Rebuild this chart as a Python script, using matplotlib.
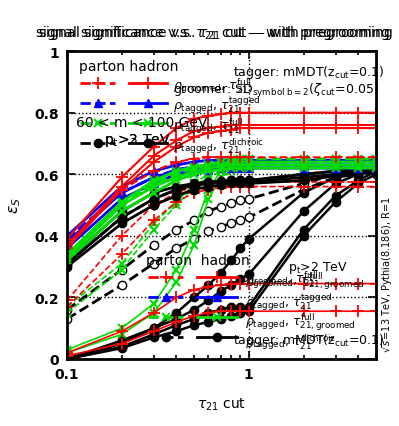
import matplotlib
matplotlib.use("Agg")
import matplotlib.pyplot as plt

# tau21 cut values
tau_cut = [0.1, 0.2, 0.3, 0.4, 0.5, 0.6, 0.7, 0.8, 0.9, 1.0, 2, 3, 4, 5]

# upper set (high efficiency) - hadron level (solid)
red_had_up = [
    [0.39, 0.59, 0.69, 0.75, 0.78, 0.79, 0.795, 0.80, 0.80, 0.80, 0.80, 0.80, 0.80, 0.80],
    [0.37, 0.56, 0.66, 0.71, 0.74, 0.75, 0.755, 0.76, 0.76, 0.76, 0.76, 0.76, 0.76, 0.76],
    [0.36, 0.55, 0.64, 0.69, 0.72, 0.735, 0.74, 0.745, 0.75, 0.75, 0.75, 0.75, 0.75, 0.75],
]
blue_had_up = [
    [0.40, 0.56, 0.61, 0.63, 0.64, 0.645, 0.645, 0.645, 0.645, 0.645, 0.645, 0.645, 0.645, 0.645],
    [0.38, 0.54, 0.59, 0.61, 0.62, 0.625, 0.63, 0.63, 0.63, 0.63, 0.63, 0.63, 0.63, 0.63],
    [0.36, 0.52, 0.57, 0.60, 0.61, 0.615, 0.62, 0.62, 0.62, 0.62, 0.62, 0.62, 0.62, 0.62],
]
green_had_up = [
    [0.34, 0.51, 0.58, 0.61, 0.625, 0.63, 0.635, 0.64, 0.64, 0.64, 0.64, 0.64, 0.64, 0.64],
    [0.33, 0.50, 0.56, 0.59, 0.61, 0.62, 0.625, 0.63, 0.63, 0.63, 0.63, 0.63, 0.63, 0.63],
    [0.32, 0.48, 0.54, 0.58, 0.60, 0.61, 0.615, 0.62, 0.62, 0.62, 0.62, 0.62, 0.62, 0.62],
]
black_had_up = [
    [0.32, 0.48, 0.54, 0.56, 0.57, 0.575, 0.578, 0.58, 0.58, 0.58, 0.60, 0.61, 0.615, 0.62],
    [0.31, 0.46, 0.52, 0.55, 0.565, 0.57, 0.575, 0.575, 0.575, 0.575, 0.59, 0.60, 0.61, 0.615],
    [0.30, 0.44, 0.50, 0.53, 0.55, 0.56, 0.565, 0.57, 0.57, 0.57, 0.58, 0.595, 0.60, 0.61],
]
# upper set - parton level (dashed)
red_par_up = [0.37, 0.55, 0.61, 0.64, 0.65, 0.655, 0.655, 0.655, 0.655, 0.655, 0.655, 0.655, 0.655, 0.655]
blue_par_up = [0.39, 0.54, 0.59, 0.615, 0.625, 0.63, 0.635, 0.635, 0.635, 0.64, 0.64, 0.64, 0.64, 0.64]
green_par_up = [0.33, 0.50, 0.57, 0.60, 0.62, 0.63, 0.64, 0.645, 0.65, 0.65, 0.65, 0.65, 0.65, 0.65]
black_par_up = [0.31, 0.46, 0.52, 0.55, 0.56, 0.57, 0.575, 0.58, 0.58, 0.58, 0.60, 0.61, 0.615, 0.62]

# lower set - hadron level (solid)
red_had_lo = [
    [0.02, 0.09, 0.15, 0.20, 0.225, 0.235, 0.24, 0.245, 0.245, 0.245, 0.245, 0.245, 0.245, 0.245],
    [0.01, 0.05, 0.09, 0.12, 0.14, 0.15, 0.155, 0.155, 0.155, 0.155, 0.155, 0.155, 0.155, 0.155],
]
green_had_lo = [
    [0.03, 0.10, 0.18, 0.29, 0.42, 0.55, 0.61, 0.62, 0.62, 0.62, 0.62, 0.62, 0.62, 0.62],
    [0.02, 0.08, 0.15, 0.25, 0.37, 0.52, 0.59, 0.61, 0.62, 0.62, 0.62, 0.62, 0.62, 0.62],
]
black_had_lo = [
    [0.0, 0.05, 0.10, 0.15, 0.20, 0.24, 0.28, 0.32, 0.36, 0.39, 0.54, 0.59, 0.61, 0.62],
    [0.0, 0.06, 0.10, 0.13, 0.16, 0.19, 0.22, 0.24, 0.26, 0.275, 0.48, 0.57, 0.60, 0.62],
    [0.0, 0.04, 0.08, 0.11, 0.13, 0.15, 0.16, 0.17, 0.17, 0.17, 0.42, 0.53, 0.58, 0.61],
    [0.0, 0.035, 0.07, 0.09, 0.11, 0.12, 0.13, 0.14, 0.15, 0.155, 0.40, 0.51, 0.57, 0.60],
]
# lower set - parton level (dashed)
red_par_lo = [
    [0.19, 0.40, 0.50, 0.54, 0.56, 0.57, 0.575, 0.575, 0.575, 0.575, 0.575, 0.575, 0.575, 0.575],
    [0.17, 0.34, 0.45, 0.51, 0.54, 0.55, 0.555, 0.56, 0.56, 0.56, 0.56, 0.56, 0.56, 0.56],
]
green_par_lo = [
    [0.17, 0.31, 0.44, 0.51, 0.57, 0.60, 0.62, 0.63, 0.635, 0.64, 0.64, 0.64, 0.64, 0.64],
    [0.15, 0.29, 0.42, 0.50, 0.56, 0.59, 0.61, 0.62, 0.625, 0.63, 0.63, 0.63, 0.63, 0.63],
]
black_par_lo = [
    [0.16, 0.29, 0.37, 0.42, 0.45, 0.48, 0.495, 0.505, 0.515, 0.52, 0.57, 0.60, 0.61, 0.615],
    [0.13, 0.24, 0.31, 0.36, 0.39, 0.415, 0.43, 0.44, 0.45, 0.46, 0.55, 0.59, 0.60, 0.61],
]

fig = plt.figure(figsize=(3.99, 4.27), dpi=100)
ax = fig.add_axes([0.168, 0.157, 0.774, 0.721])

sty = {
    'red': dict(color='red', marker='+', ms=8, mew=1.3),
    'blue': dict(color='blue', marker='^', ms=6),
    'green': dict(color='#00dd00', marker='x', ms=6, mew=1.5),
    'black': dict(color='black', marker='o', ms=6),
}

# lower set
for y in black_par_lo:
    ax.plot(tau_cut, y, ls='--', lw=2, mfc='white', **sty['black'])
for y in black_had_lo:
    ax.plot(tau_cut, y, ls='-', lw=1.8, **sty['black'])
for y in green_par_lo:
    ax.plot(tau_cut, y, ls='--', lw=1.2, **sty['green'])
for y in green_had_lo:
    ax.plot(tau_cut, y, ls='-', lw=1.2, **sty['green'])
for y in red_par_lo:
    ax.plot(tau_cut, y, ls='--', lw=1.2, **sty['red'])
for y in red_had_lo:
    ax.plot(tau_cut, y, ls='-', lw=1.2, **sty['red'])

# upper set
for y in black_had_up:
    ax.plot(tau_cut, y, ls='-', lw=2, **sty['black'])
ax.plot(tau_cut, black_par_up, ls='--', lw=2, **sty['black'])
for y in blue_had_up:
    ax.plot(tau_cut, y, ls='-', lw=2, **sty['blue'])
ax.plot(tau_cut, blue_par_up, ls='--', lw=2, **sty['blue'])
for y in green_had_up:
    ax.plot(tau_cut, y, ls='-', lw=2, **sty['green'])
ax.plot(tau_cut, green_par_up, ls='--', lw=2, **sty['green'])
for y in red_had_up:
    ax.plot(tau_cut, y, ls='-', lw=1.5, **sty['red'])
ax.plot(tau_cut, red_par_up, ls='--', lw=1.5, **sty['red'])

ax.set_xscale('log')
ax.set_xlim(0.1, 5)
ax.set_ylim(0, 1)
ax.set_yticks([0, 0.2, 0.4, 0.6, 0.8, 1])
ax.set_yticklabels(['0', '0.2', '0.4', '0.6', '0.8', '1'])
ax.set_xticks([0.1, 1])
ax.set_xticklabels(['0.1', '1'])
ax.grid(True, which='major', ls=':', color='black', lw=1)
ax.tick_params(which='both', direction='in', top=True, right=True, width=1.2)
ax.tick_params(which='major', length=6, labelsize=10, pad=6)
ax.tick_params(which='minor', length=3)
for lab in ax.get_xticklabels() + ax.get_yticklabels():
    lab.set_fontweight('bold')
for s in ax.spines.values():
    s.set_linewidth(2)

ax.set_xlabel(r'$\tau_{21}$ cut', fontsize=10, labelpad=10)
ax.set_ylabel(r'$\varepsilon_S$', fontsize=11, labelpad=8)

# the title is printed twice, slightly shifted, as in the original
title = r'signal significance v.s. $\tau_{21}$ cut — with pregrooming'
fig.text(0.533, 0.922, title, ha='center', va='center', fontsize=10)
fig.text(0.541, 0.922, title, ha='center', va='center', fontsize=10)

fig.text(0.972, 0.356, r'$\sqrt{s}$=13 TeV, Pythia(8.186), R=1', rotation=90,
         ha='center', va='center', fontsize=7)

tr = ax.transAxes
# upper legend
ax.text(0.04, 0.951, 'parton hadron', transform=tr, fontsize=10, va='center')
leg_rows_up = [0.896, 0.831, 0.766, 0.701]
leg_cols = ['red', 'blue', 'green', 'black']
leg_labels_up = [r'$\rho_{\rm groomed}$, $\tau_{21}^{\rm full}$',
                 r'$\rho_{\rm tagged}$, $\tau_{21}^{\rm tagged}$',
                 r'$\rho_{\rm tagged}$, $\tau_{21}^{\rm full}$',
                 r'$\rho_{\rm tagged}$, $\tau_{21}^{\rm dichroic}$']
for yy, c, lab in zip(leg_rows_up, leg_cols, leg_labels_up):
    st = dict(sty[c])
    ax.plot([0.042, 0.155], [yy, yy], ls='--', lw=2, transform=tr, color=st['color'], clip_on=False)
    ax.plot([0.10], [yy], ls='none', transform=tr, clip_on=False, **st)
    ax.plot([0.20, 0.325], [yy, yy], ls='-', lw=2, transform=tr, color=st['color'], clip_on=False)
    ax.plot([0.262], [yy], ls='none', transform=tr, clip_on=False, **st)
    ax.text(0.343, yy - 0.005, lab, transform=tr, fontsize=9, va='center')
ax.text(0.343, 0.875, r'groomer: SD$_{\rm symbol\ b=2}$($\zeta_{\rm cut}$=0.05)',
        transform=tr, fontsize=9, va='center')
ax.text(0.537, 0.935, r'tagger: mMDT(z$_{\rm cut}$=0.1)', transform=tr, fontsize=9, va='center')
ax.text(0.03, 0.77, '60 < m < 100 GeV', transform=tr, fontsize=10, va='center')
ax.text(0.12, 0.714, r'p$_{\rm t}$>2 TeV', transform=tr, fontsize=10, va='center')
ax.text(0.12, 0.714, r'p$_{\rm t}$>3 TeV', transform=tr, fontsize=10, va='center')

# lower legend
ax.text(0.255, 0.322, 'parton  hadron', transform=tr, fontsize=10, va='center')
leg_rows_lo = [0.266, 0.201, 0.136, 0.071]
leg_labels_lo = [r'$\rho_{\rm groomed}$, $\tau_{21,{\rm groomed}}^{\rm full}$',
                 r'$\rho_{\rm tagged}$, $\tau_{21}^{\rm tagged}$',
                 r'$\rho_{\rm tagged}$, $\tau_{21,{\rm groomed}}^{\rm full}$',
                 r'$\rho_{\rm tagged}$, $\tau_{21}^{\rm dichroic}$']
for yy, c, lab in zip(leg_rows_lo, leg_cols, leg_labels_lo):
    st = dict(sty[c])
    ax.plot([0.262, 0.375], [yy, yy], ls='--', lw=2, transform=tr, color=st['color'])
    ax.plot([0.32], [yy], ls='none', transform=tr, **st)
    ax.plot([0.42, 0.55], [yy, yy], ls='-', lw=2, transform=tr, color=st['color'])
    ax.plot([0.486], [yy], ls='none', transform=tr, **st)
    ax.text(0.576, yy - 0.012, lab, transform=tr, fontsize=9, va='center')
ax.text(0.56, 0.262, r'$\rho_{\rm groomed}$, $\tau_{21}^{\rm full}$',
        transform=tr, fontsize=9, va='center')
ax.text(0.537, 0.062, r'tagger: mMDT(z$_{\rm cut}$=0.1)', transform=tr, fontsize=9, va='center')
ax.text(0.715, 0.30, r'p$_{\rm t}$>2 TeV', transform=tr, fontsize=9, va='center')

fig.savefig('out.png', dpi=100)
